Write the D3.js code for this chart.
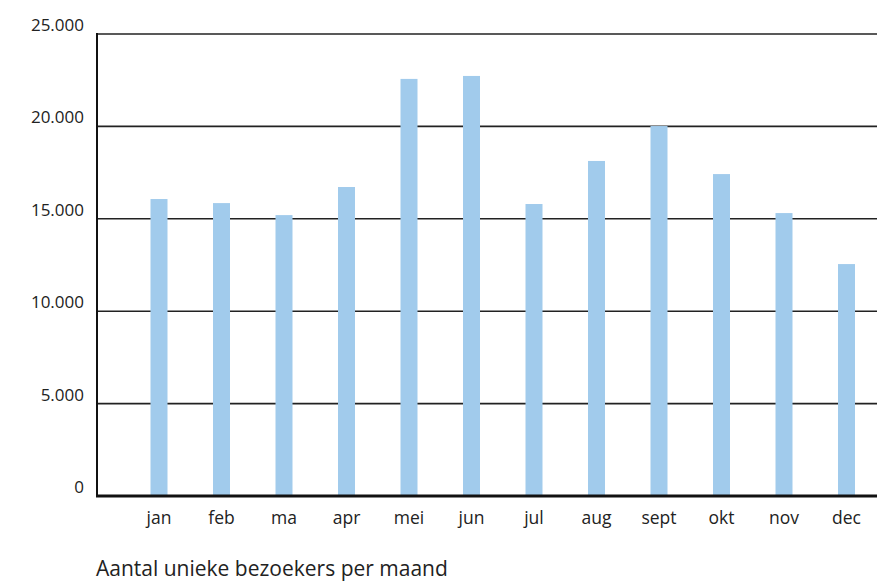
<!DOCTYPE html>
<html>
<head>
<meta charset="utf-8">
<script src="https://cdn.jsdelivr.net/npm/d3@7"></script>
<style>
  body { margin: 0; background: #fff; }
  text { font-family: "Open Sans", "Noto Sans", sans-serif; fill: #222; }
</style>
</head>
<body>
<div class="chart"></div>
<script>
// Monthly unique visitors
const months = ["jan", "feb", "ma", "apr", "mei", "jun", "jul", "aug", "sept", "okt", "nov", "dec"];
const visitors = [16070, 15850, 15200, 16720, 22570, 22730, 15800, 18130, 20020, 17420, 15310, 12550];
const yTicks = [0, 5000, 10000, 15000, 20000, 25000];
const yTickLabels = ["0", "5.000", "10.000", "15.000", "20.000", "25.000"];

const width = 877;
const height = 583;
const plotLeft = 97;
const plotRight = 877;
const plotTop = 34;
const plotBottom = 496;

const svg = d3.select(".chart")
  .append("svg")
  .attr("width", width)
  .attr("height", height);

const x = d3.scalePoint()
  .domain(months)
  .range([159, 846.5]);

const y = d3.scaleLinear()
  .domain([0, 25000])
  .range([plotBottom, plotTop]);

// gridlines
svg.selectAll("line.grid")
  .data(yTicks.slice(1))
  .enter()
  .append("line")
  .attr("class", "grid")
  .attr("x1", plotLeft)
  .attr("x2", plotRight)
  .attr("y1", d => y(d))
  .attr("y2", d => y(d))
  .attr("stroke", "#222")
  .attr("stroke-width", 1.6);

// bars
svg.selectAll("rect")
  .data(visitors)
  .enter()
  .append("rect")
  .attr("x", (d, i) => x(months[i]) - 8.5)
  .attr("y", d => y(d))
  .attr("width", 17)
  .attr("height", d => plotBottom - y(d))
  .attr("fill", "#a1cbec");

// axes lines
svg.append("line")
  .attr("x1", plotLeft).attr("x2", plotLeft)
  .attr("y1", plotTop - 1).attr("y2", plotBottom)
  .attr("stroke", "#111").attr("stroke-width", 2);

svg.append("line")
  .attr("x1", plotLeft - 1).attr("x2", plotRight)
  .attr("y1", plotBottom).attr("y2", plotBottom)
  .attr("stroke", "#111").attr("stroke-width", 3);

// y labels
svg.selectAll("text.ylab")
  .data(yTicks)
  .enter()
  .append("text")
  .attr("class", "ylab")
  .attr("x", 84)
  .attr("y", d => y(d) - 3)
  .attr("text-anchor", "end")
  .attr("font-size", 17)
  .text((d, i) => yTickLabels[i]);

// month labels
svg.selectAll("text.xlab")
  .data(months)
  .enter()
  .append("text")
  .attr("class", "xlab")
  .attr("x", d => x(d))
  .attr("y", 524)
  .attr("text-anchor", "middle")
  .attr("font-size", 17.5)
  .text(d => d);

svg.append("text")
  .attr("x", 96)
  .attr("y", 576)
  .attr("font-size", 21)
  .text("Aantal unieke bezoekers per maand");
</script>
</body>
</html>
